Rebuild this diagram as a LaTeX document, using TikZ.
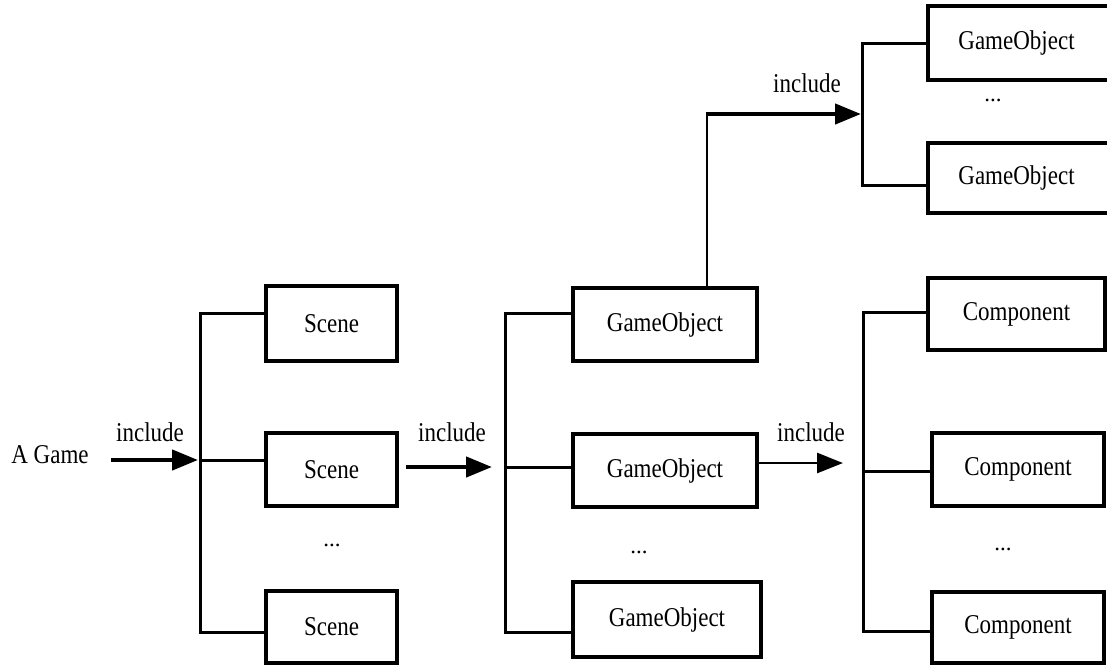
\documentclass[tikz,border=0pt]{standalone}
\usepackage{fontspec}
\setmainfont{Liberation Serif}
\usetikzlibrary{arrows.meta}
% labels are set a little taller than the font's natural shape
\newcommand{\tall}[1]{\scalebox{1}[1.18]{#1}}
\begin{document}
\begin{tikzpicture}[x=1pt,y=-1pt,
  font=\fontsize{23}{27}\selectfont,
  obj/.style={draw, line width=3.4pt, inner sep=0pt},
  txt/.style={inner sep=0pt},
  bracket/.style={line width=3pt},
  flow/.style={line width=4.4pt, -{Triangle[length=26pt,width=20pt]}},
  thinflow/.style={line width=2.6pt, -{Triangle[length=26pt,width=20pt]}}]
\useasboundingbox (0,0) rectangle (1107,665);

% level 1: the game and its scenes
\node[txt] (game) at (50,455) {\tall{A Game}};
\node[obj, minimum width=131pt, minimum height=75pt] (sc1) at (331.5,323.5) {\tall{Scene}};
\node[obj, minimum width=131pt, minimum height=73pt] (sc2) at (331.5,469.5) {\tall{Scene}};
\node[txt] (scd) at (332,545) {...};
\node[obj, minimum width=131pt, minimum height=72pt] (sc3) at (331.5,627) {\tall{Scene}};

% level 2: game objects of a scene
\node[obj, minimum width=184pt, minimum height=73pt] (go1) at (665,324.5) {\tall{GameObject}};
\node[obj, minimum width=184pt, minimum height=73pt] (go2) at (665,470.5) {\tall{GameObject}};
\node[txt] (god) at (639,552) {...};
\node[obj, line width=4pt, minimum width=188pt, minimum height=75pt] (go3) at (667,619.5) {\tall{GameObject}};

% level 3: components of a game object
\node[obj, line width=4pt, minimum width=177pt, minimum height=72pt] (cp1) at (1016.5,314) {\tall{Component}};
\node[obj, minimum width=172pt, minimum height=73pt] (cp2) at (1018,469.5) {\tall{Component}};
\node[txt] (cpd) at (1003,549) {...};
\node[obj, minimum width=172pt, minimum height=71pt] (cp3) at (1018,627.5) {\tall{Component}};

% child game objects
\node[obj, line width=3.8pt, minimum width=190pt, minimum height=74pt] (tg1) at (1023,43) {};
\node[txt] at (1016.5,43) {\tall{GameObject}};
\node[txt] (tgd) at (993,100) {...};
\node[obj, line width=3.8pt, minimum width=190pt, minimum height=70pt] (tg2) at (1023,178) {};
\node[txt] at (1016.5,178) {\tall{GameObject}};

% "include" labels
\node[txt] (l1) at (150,432) {\tall{include}};
\node[txt] (l2) at (452,432) {\tall{include}};
\node[txt] (l3) at (811,432) {\tall{include}};
\node[txt] (l4) at (807,83) {\tall{include}};

% bracket joints
\coordinate (sb1) at (200,313);
\coordinate (sbm) at (200,460);
\coordinate (sb2) at (200,632);
\coordinate (gb1) at (505,313);
\coordinate (gbm) at (505,467);
\coordinate (gb2) at (505,632);
\coordinate (cb1) at (863,312);
\coordinate (cin) at (863,463);
\coordinate (cbm) at (863,471);
\coordinate (cb2) at (863,631);
\coordinate (tb1) at (862,43);
\coordinate (tbm) at (862,114);
\coordinate (tb2) at (862,185);
\coordinate (turn) at (707,114);

% brackets
\draw[bracket] (sc1.west |- sb1) -- (sb1) -- (sb2) -- (sc3.west |- sb2);
\draw[bracket] (sbm) -- (sc2.west |- sbm);
\draw[bracket] (go1.west |- gb1) -- (gb1) -- (gb2) -- (go3.west |- gb2);
\draw[bracket] (gbm) -- (go2.west |- gbm);
\draw[bracket] (cp1.west |- cb1) -- (cb1) -- (cb2) -- (cp3.west |- cb2);
\draw[bracket] (cbm) -- (cp2.west |- cbm);
\draw[bracket] (tg1.west |- tb1) -- (tb1) -- (tb2) -- (tg2.west |- tb2);

% include arrows
\draw[flow, shorten <=22pt, shorten >=2pt] (sbm -| game.east) -- (sbm);
\draw[flow, shorten <=7pt, shorten >=13pt] (sc2.east |- gbm) -- (gbm);
\draw[thinflow, shorten >=20pt] (go2.east |- cin) -- (cin);
\draw[line width=2.6pt] (go1.north -| turn) -- ([yshift=-1pt]turn);
\draw[flow, shorten >=1pt] ([xshift=-1.3pt]turn) -- (tbm);
\end{tikzpicture}
\end{document}
